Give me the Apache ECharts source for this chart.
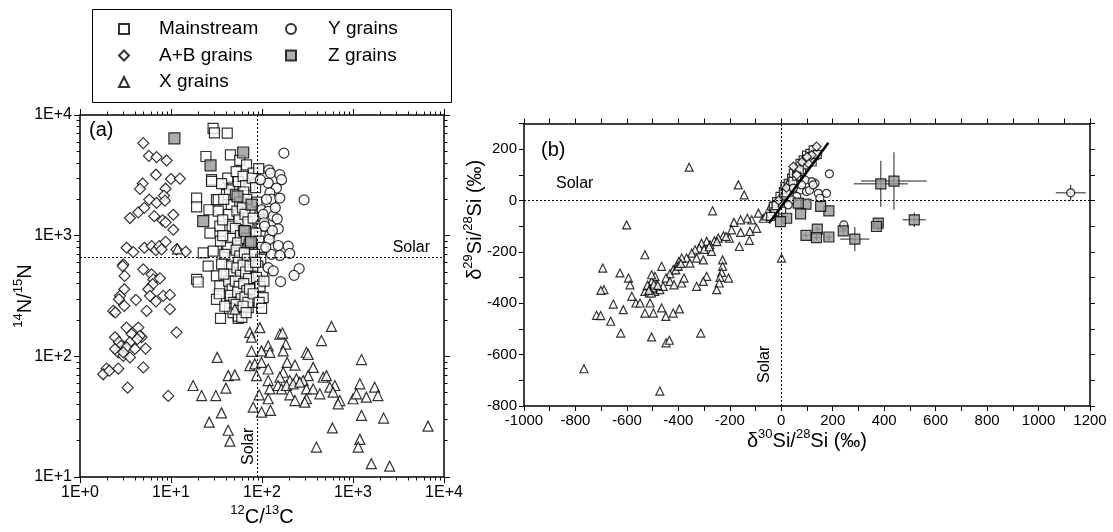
<!DOCTYPE html>
<html><head><meta charset="utf-8">
<script src="https://cdn.jsdelivr.net/npm/echarts@6/dist/echarts.min.js"></script>
<style>html,body{margin:0;padding:0;background:#fff}#c{width:1113px;height:532px}</style>
</head><body><div id="c"></div>
<script>
// ---------- Panel (a): 12C/13C vs 14N/15N ----------
const mainstreamA = [
[29,7760],[30,7100],[41.5,7070],[24.2,4530],[45,4680],[57,4200],[67.6,3860],[80,3300],[27.9,2910],[48,2560],[73.5,2640],
[19.1,2050],[19.1,1730],[26.1,1640],[31.6,1990],[40.7,2190],[57,1870],[34.4,1200],[26.8,1050],[48,990],[73.5,1120],
[22.6,721],[29.1,745],[40.7,819],[103,769],[59.6,769],[25.6,560],[31.6,464],[19.1,434],[19.9,413],[34.4,383],[48,464],
[67.6,526],[94.7,410],[31.6,297],[44.4,279],[103,307],[70.5,253],[35,206],[54.7,206],[57,253],[27.9,2820],[33,1990],
[42,3000],[44,2400],[46,1800],[43,1500],[47,1200],[45,950],[42,800],[48,650],[44,560],[46,480],[43,420],[47,360],[45,320],[49,280],[44,250],[48,230],
[52,3400],[55,2800],[51,2200],[57,1900],[53,1600],[56,1350],[51,1150],[58,1000],[54,870],[52,760],[57,680],[55,600],[53,540],[58,470],[51,420],[56,380],[54,340],[59,300],[52,270],[57,240],[55,215],[60,210],
[62,3100],[66,2600],[63,2300],[68,2000],[61,1700],[65,1500],[70,1300],[63,1100],[67,950],[72,850],[64,720],[69,640],[62,570],[66,500],[71,440],[63,400],[68,350],[65,310],[70,280],[62,260],[67,230],[73,360],[74,560],[75,900],
[78,3000],[85,2500],[92,3600],[88,1900],[95,1600],[80,1400],[98,1200],[86,1050],[92,900],[100,800],[83,700],[97,640],[90,560],[102,500],[87,450],[95,380],[80,330],[93,280],[99,250],[85,600],[105,420],
[36,2700],[38,2000],[33,1600],[37,1350],[35,900],[39,700],[36,580],[38,480],[34,330],[39,260],[37,1000]
];
const abA = [
[4.96,5840],[5.72,4590],[6.95,4480],[8.95,4200],[6.83,3200],[9.98,2950],[12.5,2970],[4.88,2700],[4.56,2440],[8.72,2450],
[8.36,2150],[5.77,1990],[6.95,1870],[8.58,1950],[3.54,1400],[4.37,1560],[5.09,1700],[6.55,1450],[8.08,1340],[10.6,1490],
[8.72,1290],[10.6,1120],[3.25,794],[3.85,731],[5.09,794],[6.12,819],[6.83,759],[7.43,819],[8.72,889],[7.88,769],
[14.5,736],[11.5,769],[2.99,578],[2.94,560],[3.09,464],[4.96,526],[6.12,478],[6.38,434],[7.55,443],[6.28,395],
[5.63,360],[4.12,294],[3.07,360],[2.75,317],[5.87,317],[8.22,317],[9.73,323],[6.83,285],[2.68,297],[2.32,238],
[2.44,231],[3.07,262],[5.40,238],[9.73,246],[3.25,173],[3.69,153],[4.37,173],[3.54,131],[4.75,144],[4.56,148],
[4.26,139],[2.42,144],[2.68,131],[2.82,122],[2.64,108],[2.42,115],[2.99,101],[3.54,98],[3.25,119],[5.26,116],
[11.5,158],[1.96,79],[1.80,71],[2.1,76],[2.64,79],[4.96,81],[3.34,55],[9.33,47],[2.99,108],[4.02,115]
];
const xA = [
[580,177],[450,135],[1240,94],[94.7,173],[73.5,158],[76.7,144],[157,153],[168,156],[183,126],[117,122],[122,108],
[76.7,110],[98.8,111],[171,111],[308,108],[321,104],[32.2,98],[73.5,83.7],[83.4,86.5],[98.8,89],[117,78.5],[189,89],
[230,84.7],[365,81],[171,73.8],[157,67.1],[202,63],[239,65],[321,69.2],[283,63],[470,67.1],[511,69.2],[631,57.3],
[1190,59.2],[1730,55.5],[42.5,69.2],[50.3,70.1],[17.5,57.3],[21.7,47.3],[31.1,47.3],[40.1,54.5],[87.1,69.2],[117,63],
[150,57.3],[122,53.7],[164,53.7],[186,57.3],[220,59.2],[260,61.1],[308,53.7],[365,53.7],[432,48.9],[556,55.5],[604,50.5],
[716,43],[686,40.4],[1000,44.5],[1090,48.9],[1400,45.9],[1880,47.3],[93,48],[117,44.5],[202,48],[230,43],[308,44.5],
[295,41.7],[80,37.9],[98.8,34.5],[124,35.6],[35.9,34],[26.3,28.5],[42.5,24.4],[44.4,19.8],[1240,32.4],[2170,30.8],
[6670,26.4],[594,25.5],[1190,20.5],[1140,17.7],[396,17.7],[1590,12.9],[2530,12.3],[11.8,778],[50.3,246]
];
const yA = [
[174,4830],[119,3515],[124,3300],[157,3200],[164,2910],[117,2730],[144,2480],[122,2260],[127,2010],[157,2050],[290,1980],
[99,1640],[117,1590],[103,1500],[133,1450],[147,1380],[105,1280],[151,1140],[122,1020],[120,930],[151,829],[194,819],
[127,700],[157,686],[202,713],[117,543],[133,510],[256,533],[225,469],[160,416],[96,2910],[107,1200],[112,2000],
[140,1700],[130,1100],[110,800]
];
const zA = [[10.9,6410],[27.2,3820],[62.1,4890],[53.8,2120],[76.7,1810],[22.6,1320],[64.8,1090],[75.4,884]];
const solarA = {c: 89, n: 660};
const logTickLabels = {1:'1E+0',10:'1E+1',100:'1E+2',1000:'1E+3',10000:'1E+4'};

// ---------- Panel (b): d30Si vs d29Si ----------
const mainstreamB = [
[-31,-23],[-18,-4],[-5,16],[8,35],[14,54],[27,67],[40,87],[47,106],[60,126],[73,145],[85,158],[98,177],[111,184],[124,197],
[-12,-49],[1,-36],[21,9],[53,61],[31,41],[66,93],[79,113],[92,139],[105,158],[118,171],[-25,-43],[-41,-62],[10,10],[35,60],
[70,120],[100,160],[130,175],[-20,-20],[5,-10],[45,75],[60,95],[120,150],[140,180],[20,30]
];
const abB = [[137,210],[118,177],[105,145],[60,100],[47,132],[80,150],[20,50],[-10,0],[100,170]];
const xB = [
[-358,130],[-167,61],[-144,22],[-267,-40],[-601,-95],[-41,-21],[-70,-69],[-89,-49],[-115,-75],[-132,-69],[-158,-75],[-184,-85],
[-96,-108],[-122,-120],[-158,-124],[-163,-179],[-124,-155],[-193,-114],[-202,-146],[-225,-137],[-245,-146],[-260,-157],
[-277,-172],[-290,-159],[-310,-166],[-319,-185],[-335,-192],[-348,-205],[-368,-224],[-387,-224],[-398,-237],[-407,-256],
[-420,-269],[-433,-285],[-448,-302],[-465,-256],[-491,-295],[-504,-315],[-517,-334],[-530,-354],[-513,-360],[-491,-354],
[-472,-347],[-459,-334],[-485,-328],[-504,-289],[-433,-315],[-417,-328],[-387,-321],[-378,-302],[-355,-244],[-329,-224],
[-303,-231],[-271,-198],[-228,-231],[-228,-256],[-232,-280],[-238,-299],[-241,-321],[-251,-347],[-205,-302],[-290,-295],
[-303,-315],[-329,-334],[-530,-211],[-694,-263],[-627,-282],[-594,-302],[-588,-328],[-581,-373],[-689,-347],[-701,-350],
[-653,-403],[-614,-425],[-663,-470],[-718,-447],[-702,-448],[-624,-516],[-565,-399],[-549,-399],[-530,-438],[-510,-399],
[-497,-438],[-465,-418],[-449,-451],[-420,-438],[-396,-422],[-504,-531],[-448,-554],[-435,-544],[-313,-516],[-767,-655],
[-472,-742],[1,-224],[-520,-330],[-510,-345],[-500,-340],[-495,-325],[-505,-360],[-515,-350],[-480,-330],[-410,-270],
[-400,-255],[-390,-245],[-300,-190],[-280,-180],[-250,-160],[-215,-140],[-60,-60],[-30,-30]
];
const yB = [[187,104],[176,28],[144,28],[131,67],[118,74],[92,80],[73,41],[60,16],[40,3],[27,-17],[47,48],[98,35],[150,9],
[79,61],[110,40],[124,61],[243,-95],[1125,30]];
const yBerr = [[124,61,15,15],[243,-95,15,15],[1125,30,58,31]];
const zB = [[387,65],[438,76],[517,-75],[377,-88],[370,-101],[286,-150],[241,-118],[185,-142],[140,-111],[137,-144],[96,-136],
[185,-40],[153,-23],[96,-14],[66,-10],[75,-52],[21,-69],[-3,-82]];
const zBerr = [[387,65,105,90],[438,76,128,112],[517,-75,45,28],[286,-150,57,47],[377,-95,22,24],[241,-118,14,14],
[185,-142,12,12],[137,-144,12,12],[96,-136,12,12],[140,-111,10,10]];
const mainLineB = [[-48,-88],[183,225]];

const FONT = '"Liberation Sans", Arial, Helvetica, sans-serif';
const chart = echarts.init(document.getElementById('c'), null, {renderer: 'canvas'});

function open(sym, size, extra) {
  return Object.assign({type: 'scatter', symbol: sym, symbolSize: size,
    itemStyle: {color: '#fff', borderColor: '#000', borderWidth: 1.2}, z: 3}, extra);
}
function logAxis(grid, pos, min, max, showLabel) {
  return {type: 'log', logBase: 10, gridIndex: grid, position: pos, min: min, max: max,
    axisLine: {show: true, onZero: false, lineStyle: {color: '#000', width: 1.5}},
    axisTick: {show: true, inside: false, length: 6, lineStyle: {color: '#000', width: 1}},
    minorTick: {show: true, splitNumber: 9, length: 3.5, lineStyle: {color: '#000', width: 1}},
    splitLine: {show: false}, minorSplitLine: {show: false},
    axisLabel: {show: showLabel, fontFamily: FONT, fontSize: 16, color: '#000', margin: 8,
      formatter: v => logTickLabels[Math.round(v)] || ''}};
}
function valAxis(grid, pos, min, max, showLabel, fmt) {
  return {type: 'value', gridIndex: grid, position: pos, min: min, max: max, interval: 100,
    axisLine: {show: true, onZero: false, lineStyle: {color: '#000', width: 1.5}},
    axisTick: {show: true, inside: false, length: 5, lineStyle: {color: '#000', width: 1}},
    splitLine: {show: false},
    axisLabel: {show: showLabel, fontFamily: FONT, fontSize: 15, color: '#000', margin: 7, showMaxLabel: true,
      formatter: fmt}};
}
const fmtX = v => (Math.abs(v) % 200 === 0) ? String(v) : '';
const fmtY = v => (Math.abs(v) % 200 === 0 && v <= 200) ? String(v) : '';
function errRender(params, api) {
  const x = api.value(0), y = api.value(1), ex = api.value(2), ey = api.value(3);
  const l = api.coord([x - ex, y]), r = api.coord([x + ex, y]);
  const b = api.coord([x, y - ey]), t = api.coord([x, y + ey]);
  const st = {stroke: '#222', lineWidth: 1};
  return {type: 'group', children: [
    {type: 'line', shape: {x1: l[0], y1: l[1], x2: r[0], y2: r[1]}, style: st},
    {type: 'line', shape: {x1: b[0], y1: b[1], x2: t[0], y2: t[1]}, style: st}]};
}
const supRich = {
  m: {fontFamily: FONT, fontSize: 20, color: '#000', lineHeight: 26},
  s: {fontFamily: FONT, fontSize: 13, color: '#000', lineHeight: 15, verticalAlign: 'top'}
};
const dotted = {color: '#000', width: 1, type: [2, 2]};
const solarLabel = (pos, dist) => ({show: true, formatter: 'Solar', position: pos, fontFamily: FONT, fontSize: 16, color: '#000', distance: dist});

const legendText = {fontFamily: FONT, fontSize: 19, color: '#000', lineHeight: 20};

chart.setOption({
  animation: false,
  backgroundColor: '#fff',
  grid: [
    {left: 80, top: 115, width: 364, height: 363},
    {left: 524, top: 123.5, width: 566, height: 282.5}
  ],
  legend: [
    {orient: 'vertical', left: 113, top: 14, itemWidth: 10, itemHeight: 10, itemGap: 6.5,
     data: ['Mainstream', 'A+B grains', 'X grains'], textStyle: Object.assign({padding: [0, 0, 0, 25]}, legendText), selectedMode: false},
    {orient: 'vertical', left: 280, top: 14, itemWidth: 10, itemHeight: 10, itemGap: 6.5,
     data: ['Y grains', 'Z grains'], textStyle: Object.assign({padding: [0, 0, 0, 27]}, legendText), selectedMode: false}
  ],
  graphic: [
    {type: 'rect', shape: {x: 92.5, y: 9.5, width: 359, height: 93}, style: {fill: 'none', stroke: '#000', lineWidth: 1}, z: -1},
    {type: 'text', left: 89, top: 120, style: {text: '(a)', font: '20px ' + FONT, fill: '#000'}},
    {type: 'text', left: 541, top: 140, style: {text: '(b)', font: '20px ' + FONT, fill: '#000'}}
  ],
  xAxis: [
    Object.assign(logAxis(0, 'bottom', 1, 10000, true), {
      name: '{s|12}{m|C/}{s|13}{m|C}', nameLocation: 'middle', nameGap: 27, nameMoveOverlap: false,
      nameTextStyle: {rich: supRich}}),
    logAxis(0, 'top', 1, 10000, false),
    Object.assign(valAxis(1, 'bottom', -1000, 1200, true, fmtX), {
      name: '{m|δ}{s|30}{m|Si/}{s|28}{m|Si (‰)}', nameLocation: 'middle', nameGap: 22, nameMoveOverlap: false,
      nameTextStyle: {rich: supRich}}),
    valAxis(1, 'top', -1000, 1200, false, fmtX)
  ],
  yAxis: [
    Object.assign(logAxis(0, 'left', 10, 10000, true), {
      name: '{s|14}{m|N/}{s|15}{m|N}', nameLocation: 'middle', nameGap: 42, nameRotate: 90, nameMoveOverlap: false,
      nameTextStyle: {rich: supRich}}),
    logAxis(0, 'right', 10, 10000, false),
    Object.assign(valAxis(1, 'left', -800, 300, true, fmtY), {
      name: '{m|δ}{s|29}{m|Si/}{s|28}{m|Si (‰)}', nameLocation: 'middle', nameGap: 36, nameRotate: 90, nameMoveOverlap: false,
      nameTextStyle: {rich: supRich, padding: [0, 0, 0, 90]}}),
    valAxis(1, 'right', -800, 300, false, fmtY)
  ],
  series: [
    // ---- panel a ----
    open('rect', 10, {name: 'Mainstream', xAxisIndex: 0, yAxisIndex: 0, data: mainstreamA,
      markLine: {silent: true, symbol: 'none', animation: false, lineStyle: dotted,
        data: [
          {xAxis: solarA.c, label: solarLabel('insideStartTop', [12, 1])},
          {yAxis: solarA.n, label: solarLabel('insideEndTop', [14, 2])}
        ]}}),
    open('circle', 10, {name: 'Y grains', xAxisIndex: 0, yAxisIndex: 0, data: yA}),
    open('diamond', 11, {name: 'A+B grains', xAxisIndex: 0, yAxisIndex: 0, data: abA}),
    open('triangle', 10, {name: 'X grains', xAxisIndex: 0, yAxisIndex: 0, data: xA}),
    open('rect', 11, {name: 'Z grains', xAxisIndex: 0, yAxisIndex: 0, data: zA,
      itemStyle: {color: '#999', borderColor: '#000', borderWidth: 1.2}, z: 4}),
    // ---- panel b ----
    open('triangle', 8, {name: 'X grains', xAxisIndex: 2, yAxisIndex: 2, data: xB,
      markLine: {silent: true, symbol: 'none', animation: false, lineStyle: dotted,
        data: [
          {xAxis: 0, label: solarLabel('insideStartTop', [23, 9])},
          {yAxis: 0, label: solarLabel('insideStartTop', [32, 9])}
        ]}}),
    open('rect', 8, {name: 'Mainstream', xAxisIndex: 2, yAxisIndex: 2, data: mainstreamB}),
    open('diamond', 9, {name: 'A+B grains', xAxisIndex: 2, yAxisIndex: 2, data: abB}),
    {type: 'custom', name: 'Y err', xAxisIndex: 2, yAxisIndex: 2, data: yBerr, renderItem: errRender,
      encode: {x: 0, y: 1}, z: 3, silent: true},
    open('circle', 8, {name: 'Y grains', xAxisIndex: 2, yAxisIndex: 2, data: yB, z: 4}),
    {type: 'line', name: 'trend', xAxisIndex: 2, yAxisIndex: 2, data: mainLineB, symbol: 'none',
      lineStyle: {color: '#000', width: 2.5}, z: 5, silent: true},
    {type: 'custom', name: 'Z err', xAxisIndex: 2, yAxisIndex: 2, data: zBerr, renderItem: errRender,
      encode: {x: 0, y: 1}, z: 5, silent: true},
    open('rect', 10, {name: 'Z grains', xAxisIndex: 2, yAxisIndex: 2, data: zB,
      itemStyle: {color: '#999', borderColor: '#000', borderWidth: 1.2}, z: 6})
  ]
});
</script></body></html>
